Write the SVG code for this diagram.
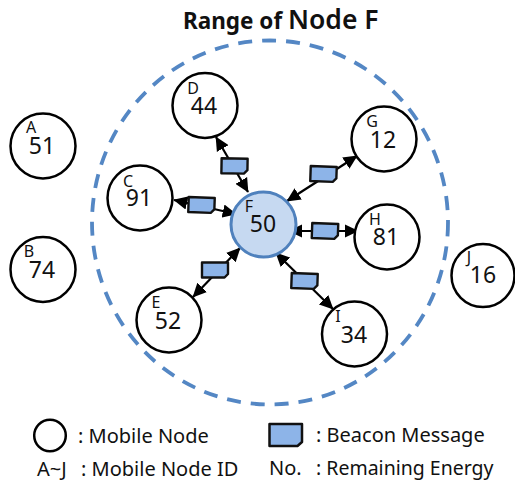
<svg xmlns="http://www.w3.org/2000/svg" width="515" height="482" viewBox="0 0 515 482">
<defs>
<marker id="ah" viewBox="0 0 10 10" refX="9.5" refY="5" markerWidth="14" markerHeight="14" markerUnits="userSpaceOnUse" orient="auto-start-reverse"><path d="M0 0.2L10 5L0 9.800z" fill="#000"/></marker>
<path id="msg" d="M-13-7.500L13-7.500V4L9.500 7.500H-13z" fill="#8db4e8" stroke="#111" stroke-width="2.400" stroke-linejoin="round"/>
</defs>
<style>
text{font-family:"Noto Sans","Open Sans","Liberation Sans",sans-serif;fill:#111}
.n{fill:#fff;stroke:#000;stroke-width:2.500}
.id{font-size:16px;text-anchor:middle}
.v{font-size:23px;text-anchor:middle}
.l{font-size:20px}
.c line{stroke:#000;stroke-width:2.200;marker-start:url(#ah);marker-end:url(#ah)}
</style>
<rect width="515" height="482" fill="#fff"/>
<text x="183" y="29" font-weight="700" font-size="22.500">Range of</text>
<text x="288" y="29" font-weight="600" font-size="26.500">Node F</text>
<ellipse id="range" cx="270" cy="222.500" rx="178" ry="182" fill="none" stroke="#5487c4" stroke-width="3.800" stroke-dasharray="14 10"/>
<g id="connectors" class="c">
<line x1="216" y1="137" x2="248" y2="192"/>
<line x1="174" y1="200" x2="236" y2="214"/>
<line x1="357" y1="156" x2="287" y2="201"/>
<line x1="358" y1="231" x2="289" y2="231"/>
<line x1="193" y1="297" x2="240" y2="248"/>
<line x1="333" y1="309" x2="276" y2="253"/>
</g>
<g id="msg-D"><use href="#msg" transform="translate(234.500,166) rotate(1)"/></g>
<g id="msg-C"><use href="#msg" transform="translate(201.500,205) rotate(2)"/></g>
<g id="msg-G"><use href="#msg" transform="translate(323.500,174) rotate(2)"/></g>
<g id="msg-H"><use href="#msg" transform="translate(325,231) rotate(2)"/></g>
<g id="msg-E"><use href="#msg" transform="translate(215,270)"/></g>
<g id="msg-I"><use href="#msg" transform="translate(304.500,281) rotate(2)"/></g>
<g id="node-A"><circle class="n" cx="43" cy="146" r="32.500"/><text class="id" x="31" y="133">A</text><text class="v" x="42" y="154">51</text></g>
<g id="node-B"><circle class="n" cx="43" cy="269.500" r="32.500"/><text class="id" x="29" y="257">B</text><text class="v" x="42" y="278">74</text></g>
<g id="node-C"><circle class="n" cx="140" cy="198" r="32.500"/><text class="id" x="128" y="187">C</text><text class="v" x="139" y="206">91</text></g>
<g id="node-D"><circle class="n" cx="205" cy="105.500" r="32.500"/><text class="id" x="193" y="94">D</text><text class="v" x="204" y="114">44</text></g>
<g id="node-E"><circle class="n" cx="169" cy="320" r="32.500"/><text class="id" x="156" y="308">E</text><text class="v" x="168" y="329">52</text></g>
<g id="node-F"><circle cx="263.500" cy="224.500" r="32.500" fill="#c6d9f1" stroke="#4f81bd" stroke-width="3"/><text class="id" x="249" y="212">F</text><text class="v" x="263" y="232">50</text></g>
<g id="node-G"><circle class="n" cx="384" cy="139" r="32.500"/><text class="id" x="372" y="127">G</text><text class="v" x="383" y="148">12</text></g>
<g id="node-H"><circle class="n" cx="387" cy="237" r="32.500"/><text class="id" x="375" y="225">H</text><text class="v" x="386" y="245">81</text></g>
<g id="node-I"><circle class="n" cx="354.500" cy="334" r="32.500"/><text class="id" x="338" y="322">I</text><text class="v" x="354" y="343">34</text></g>
<g id="node-J"><circle class="n" cx="483" cy="275.500" r="31.500"/><text class="id" x="469" y="263">J</text><text class="v" x="483" y="283">16</text></g>
<g id="legend">
<circle cx="50" cy="435.500" r="15.800" fill="#fff" stroke="#000" stroke-width="2.500"/>
<text class="l" x="78" y="443">: Mobile Node</text>
<path d="M269.500 424H302V442L297.500 446H269.500z" fill="#8db4e8" stroke="#111" stroke-width="2.500" stroke-linejoin="round"/>
<text class="l" x="316" y="442">: Beacon Message</text>
<text class="l" x="37" y="476">A~J</text>
<text class="l" x="81" y="476">: Mobile Node ID</text>
<text class="l" x="269" y="475">No.</text>
<text class="l" font-size="19.500" x="316" y="475" style="font-size:19.500px">: Remaining Energy</text>
</g>
</svg>
